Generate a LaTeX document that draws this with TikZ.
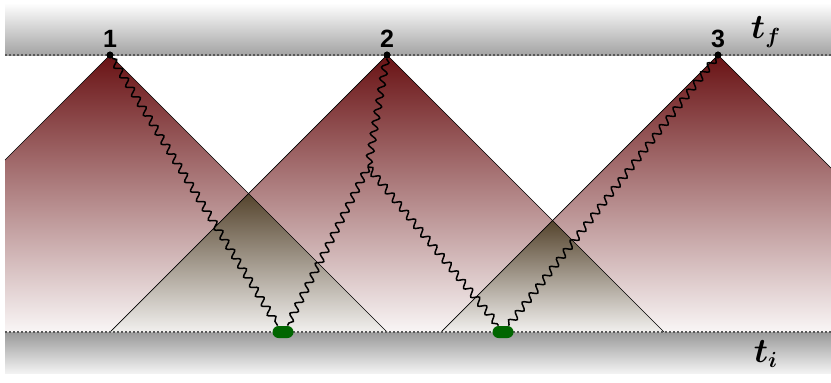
\documentclass[tikz,border=0pt]{standalone}
\usepackage{fontspec}
\setsansfont{Liberation Sans}
\usepackage{bm}
\usetikzlibrary{decorations.pathmorphing}
\definecolor{cone}{RGB}{105,18,20}
\definecolor{overlap}{RGB}{85,68,45}
\definecolor{vtx}{RGB}{0,102,0}

\begin{document}
\begin{tikzpicture}[x=0.5pt, y=0.5pt, font=\sffamily\bfseries,
  edge/.style={black, line width=0.35pt},
  slice/.style={gray!70!black, line width=0.6pt, dash pattern=on 1pt off 1pt},
  photon/.style={decorate, decoration={snake, amplitude=1.7pt, segment length=5.6pt}, line width=0.75pt},
  apex/.style={circle, fill=black, inner sep=0pt, minimum size=3.4pt},
  src/.style={rounded corners=3pt, fill=vtx, minimum width=10.5pt, minimum height=6pt, inner sep=0pt},
  tag/.style={font=\fontsize{12.5}{14}\selectfont\sffamily\bfseries},
  tlabel/.style={font=\fontsize{16}{18}\selectfont}]
\useasboundingbox (0,0) rectangle (831,382);
% time slices
\shade[top color=white, bottom color=black!36] (5,327) rectangle (831,379);
\shade[top color=black!40, bottom color=black!5] (5,9) rectangle (831,50);
% backward cones
\shade[top color=cone, bottom color=cone!4] (110,327) -- (5,222) -- (5,50) -- (387,50) -- cycle;
\shade[top color=cone, bottom color=cone!4] (387,327) -- (110,50) -- (664,50) -- cycle;
\shade[top color=cone, bottom color=cone!4] (718,327) -- (441,50) -- (831,50) -- (831,214) -- cycle;
% overlaps
\shade[top color=overlap, bottom color=overlap!8] (248.5,188.5) -- (110,50) -- (387,50) -- cycle;
\shade[top color=overlap, bottom color=overlap!8] (552.5,161.5) -- (441,50) -- (664,50) -- cycle;
% cone edges
\draw[edge] (5,222) -- (110,327) -- (387,50);
\draw[edge] (110,50) -- (387,327) -- (664,50);
\draw[edge] (441,50) -- (718,327) -- (831,214);
\draw[slice] (5,327) -- (831,327);
\draw[slice] (5,50) -- (831,50);
% events and sources
\node[apex] (p1) at (110,327) {};
\node[apex] (p2) at (387,327) {};
\node[apex] (p3) at (718,327) {};
\node[src] (s1) at (283,50) {};
\node[src] (s2) at (503,50) {};
\coordinate (br) at (368,215);
\draw[photon] (p1) -- (s1.130);
\draw[photon] (p2) -- (br);
\draw[photon] (br) -- (s1.55);
\draw[photon] (br) -- (s2.125);
\draw[photon] (p3) -- (s2.50);
\node[apex] at (p1) {};
\node[apex] at (p2) {};
\node[apex] at (p3) {};
% labels
\node[tag] (n1) at (110,343) {1};
\node[tag] (n2) at (387,343) {2};
\node[tag] (n3) at (718,343) {3};
\node[tlabel] (tf) at (766,350) {$\bm{t_f}$};
\node[tlabel] (ti) at (766,28) {$\bm{t_i}$};
\end{tikzpicture}
\end{document}
